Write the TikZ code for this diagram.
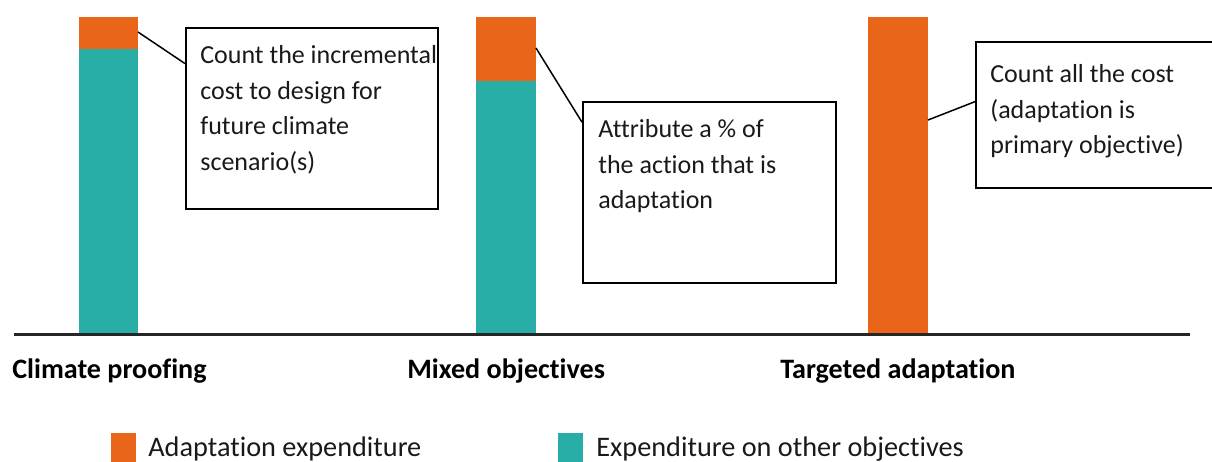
\documentclass[tikz,border=0pt]{standalone}
\usepackage{fontspec}
\setmainfont[Ligatures={NoCommon}]{Carlito}
\usetikzlibrary{calc,positioning}
\definecolor{adaptorange}{HTML}{E8651A}
\definecolor{otherteal}{HTML}{29ADA7}

\begin{document}
\begin{tikzpicture}[x=0.02cm, y=-0.02cm,
          callout/.style = {draw, line width=1.1pt, rectangle, anchor=north west, inner sep=0pt},
          note/.style = {anchor=north west, align=left, inner sep=0pt, text=black!90,
                         font=\fontsize{14.8}{20.2}\selectfont},
          cat/.style = {anchor=base west, inner sep=0pt, font=\fontsize{16}{18}\selectfont\bfseries},
          key/.style = {anchor=base west, inner sep=0pt, text=black!90, font=\fontsize{16.1}{19}\selectfont},
          lead/.style = {line width=0.85pt}]
        \useasboundingbox (0,0) rectangle (1212,461);
        % bars
        \fill[otherteal] (79,49) rectangle (138,333);
        \fill[adaptorange] (79,17) rectangle (138,49);
        \fill[otherteal] (476,81) rectangle (536,333);
        \fill[adaptorange] (476,17) rectangle (536,81);
        \fill[adaptorange] (868,17) rectangle (928,333);
        \draw[line width=1.7pt, black!85] (14,334) -- (1190,334);
        % callout boxes
        \node[callout, minimum width=5.04cm, minimum height=3.62cm] (box1) at (185,27) {};
        \node[callout, minimum width=5.06cm, minimum height=3.62cm] (box2) at (582,101) {};
        \node[callout, minimum width=5.4cm, minimum height=2.92cm] (box3) at (975,41) {};
        \node[note] (t1) at (200,45.5) {Count the incremental\\cost to design for\\future climate\\scenario(s)};
        \node[note] (t2) at (598,119.5) {Attribute a \% of\\the action that is\\adaptation};
        \node[note] (t3) at (990,64.5) {Count all the cost\\(adaptation is\\primary objective)};
        % leader lines
        \coordinate (cp) at (138,32);
        \coordinate (mo) at (536,48);
        \coordinate (ta) at (928,120);
        \draw[lead] (cp) -- ($(box1.north west)!0.2!(box1.south west)$);
        \draw[lead] (mo) -- ($(box2.north west)!0.116!(box2.south west)$);
        \draw[lead] (ta) -- ($(box3.north west)!0.41!(box3.south west)$);
        % categories
        \node[cat] (c1) at (12,378) {Climate proofing};
        \node[cat] (c2) at (407,378) {Mixed objectives};
        \node[cat] (c3) at (780,378) {Targeted adaptation};
        % legend
        \fill[adaptorange] (111,433) rectangle (136,465);
        \node[key] (k1) at (148,456) {Adaptation expenditure};
        \fill[otherteal] (558,433) rectangle (583,465);
        \node[key] (k2) at (596,456) {Expenditure on other objectives};
      \end{tikzpicture}
\end{document}
